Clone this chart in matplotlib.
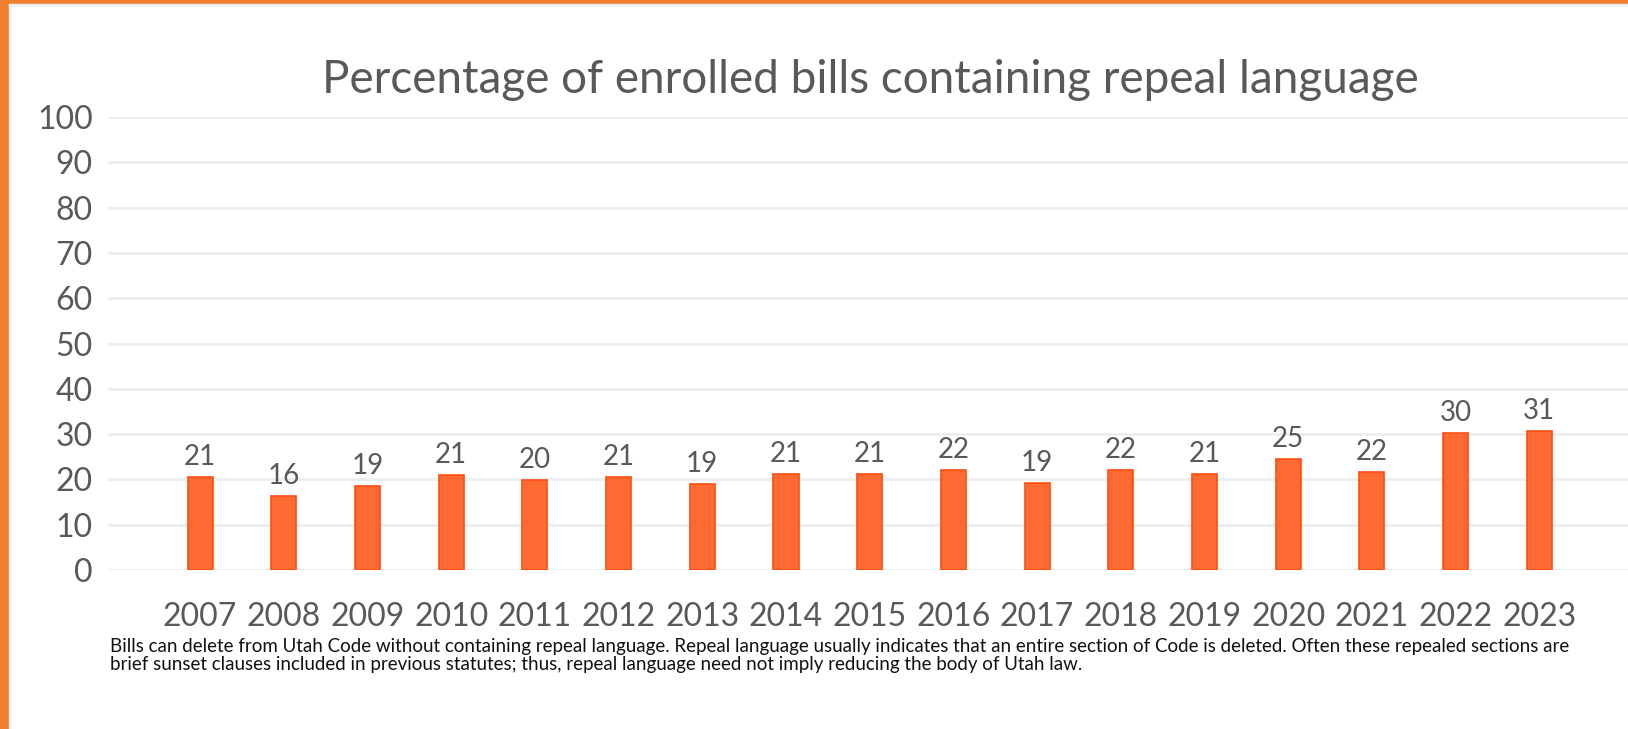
import matplotlib
matplotlib.use('Agg')
import matplotlib.pyplot as plt
from matplotlib.patches import Rectangle

plt.rcParams['font.family'] = ['Lato', 'DejaVu Sans']

# data
years = ['2007', '2008', '2009', '2010', '2011', '2012', '2013', '2014', '2015',
         '2016', '2017', '2018', '2019', '2020', '2021', '2022', '2023']
pct = [20.6, 16.4, 18.6, 21.0, 19.9, 20.6, 19.0, 21.1, 21.1,
       22.0, 19.3, 22.0, 21.2, 24.6, 21.6, 30.3, 30.6]
yticks = list(range(0, 101, 10))

TXT = '#595959'
BAR = '#FF6A33'
EDGE = '#FF4E0E'
GRID = '#E9EFF2'

fig = plt.figure(figsize=(16.28, 7.29), dpi=100)
fig.patch.set_facecolor('white')

# orange frame on top and left
fig.patches.append(Rectangle((0, 0), 9 / 1628, 1, transform=fig.transFigure,
                             color='#F08030', zorder=0))
fig.patches.append(Rectangle((0, 1 - 4 / 729), 1, 4 / 729, transform=fig.transFigure,
                             color='#F08030', zorder=0))
fig.patches.append(Rectangle((9 / 1628, 0), 2 / 1628, 1 - 4 / 729, transform=fig.transFigure,
                             color='#EEF2F4', zorder=0))
fig.patches.append(Rectangle((9 / 1628, 1 - 6 / 729), 1, 2 / 729, transform=fig.transFigure,
                             color='#EEF2F4', zorder=0))

ax = fig.add_axes([108 / 1628, 1 - 570 / 729, 1 - 108 / 1628, (570 - 117) / 729])
x = list(range(len(years)))
bars = ax.bar(x, pct, width=0.30, color=BAR, edgecolor=EDGE, linewidth=1.2, zorder=3)

for xi, v in zip(x, pct):
    ax.annotate(f'{v:.0f}', (xi, v), xytext=(0, 5), textcoords='offset points',
                ha='center', va='bottom', fontsize=20, color=TXT)

ax.set_xlim(-1.1, 17.06)
ax.set_ylim(0, 100)
ax.set_yticks(yticks)
ax.set_yticklabels([str(t) for t in yticks], fontsize=23, color=TXT)
ax.set_xticks(x)
ax.set_xticklabels(years, fontsize=23, color=TXT)
ax.tick_params(axis='both', length=0)
ax.tick_params(axis='y', pad=11)
ax.tick_params(axis='x', pad=23)
ax.grid(axis='y', color=GRID, linewidth=2, zorder=0)
for s in ax.spines.values():
    s.set_visible(False)

fig.text(870 / 1628, 1 - 80 / 729, 'Percentage of enrolled bills containing repeal language',
         ha='center', va='center', fontsize=33, color=TXT)

note = ('Bills can delete from Utah Code without containing repeal language. Repeal language usually '
        'indicates that an entire section of Code is deleted. Often these repealed sections are\n'
        'brief sunset clauses included in previous statutes; thus, repeal language need not imply '
        'reducing the body of Utah law.')
fig.text(110 / 1628, 1 - 638 / 729, note, ha='left', va='top', fontsize=13.5,
         color='#111111', linespacing=1.1)

fig.savefig('out.png', dpi=100)
